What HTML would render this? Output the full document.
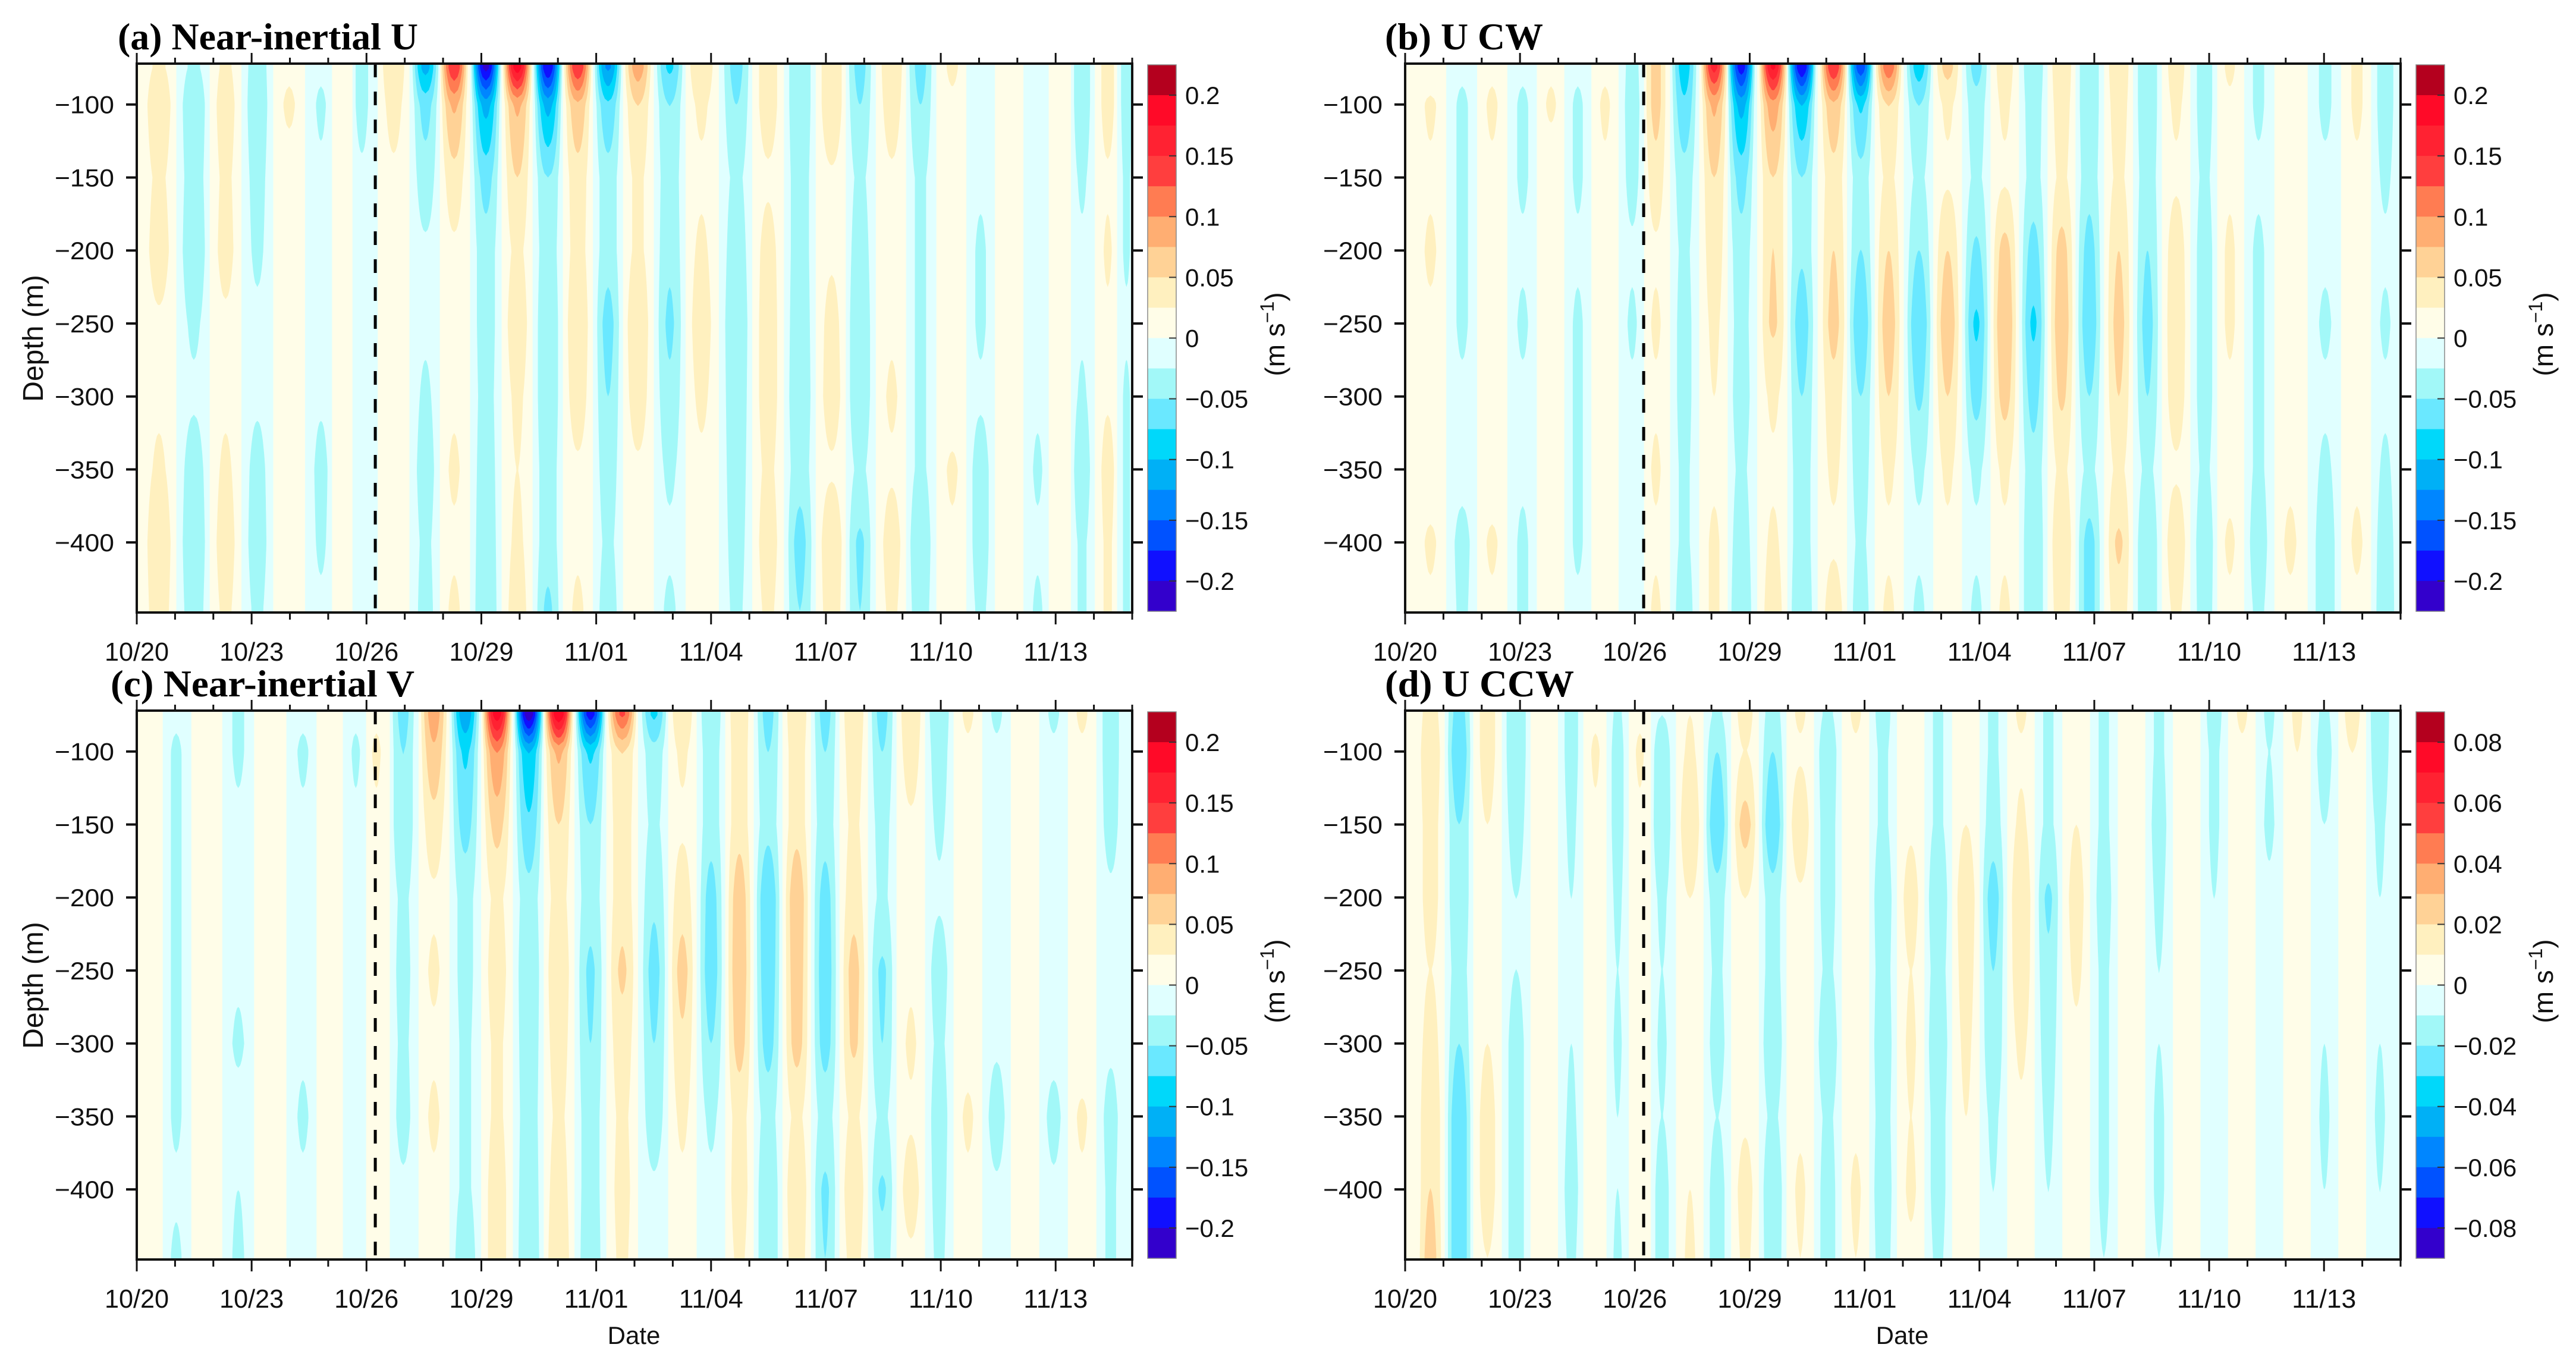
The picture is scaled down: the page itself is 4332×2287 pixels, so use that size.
<!DOCTYPE html>
<html><head><meta charset="utf-8">
<style>
html,body{margin:0;padding:0;background:#fff;}
svg{display:block;}
</style></head>
<body>
<svg id="fig" xmlns="http://www.w3.org/2000/svg" width="4332" height="2287" viewBox="0 0 4332 2287"></svg>
<script>
// ---------- data ----------
const depthNodes = [-75,-100,-150,-200,-250,-300,-350,-400,-445];
const dateLabels = ['10/20','10/23','10/26','10/29','11/01','11/04','11/07','11/10','11/13'];
const dateTickDays = [0,3,6,9,12,15,18,21,24];
const depthTicks = [-100,-150,-200,-250,-300,-350,-400];
const cbLabelsUV = [0.2,0.15,0.1,0.05,0,-0.05,-0.1,-0.15,-0.2];
const cbLabelsD = [0.08,0.06,0.04,0.02,0,-0.02,-0.04,-0.06,-0.08];
const eventDay = 6.23;

const timesA = [0.58,1.49,2.32,3.15,3.98,4.81,5.39,5.88,6.71,7.54,8.29,9.12,9.94,10.74,11.52,12.31,13.09,13.92,14.75,15.66,16.49,17.32,18.15,18.89,19.72,20.47,21.30,22.04,22.79,23.53,24.11,24.69,25.36,25.85];
const ampsA = [
[0.03,0.05,0.03,0.04,0.02,0.02,0.03,0.05,0.04],
[-0.03,-0.05,-0.04,-0.05,-0.03,-0.02,-0.04,-0.05,-0.04],
[0.03,0.04,0.03,0.035,0.02,0.02,0.03,0.04,0.03],
[-0.04,-0.045,-0.035,-0.03,-0.02,-0.02,-0.035,-0.04,-0.03],
[0.02,0.03,0.015,0.015,0.015,0.02,0.015,0.02,0.02],
[-0.02,-0.03,-0.02,-0.02,-0.02,-0.02,-0.035,-0.03,-0.02],
[0.01,0.015,0.02,0.01,0.015,0.02,0.01,0.015,0.01],
[-0.035,-0.035,-0.02,-0.01,-0.01,-0.02,-0.01,-0.01,-0.01],
[0.05,0.035,0.02,0.02,0.015,0.02,0.02,0.01,0.01],
[-0.11,-0.06,-0.04,-0.02,-0.02,-0.03,-0.04,-0.03,-0.035],
[0.15,0.08,0.04,0.02,0.02,0.02,0.03,0.02,0.03],
[-0.21,-0.11,-0.06,-0.04,-0.04,-0.035,-0.04,-0.045,-0.05],
[0.19,0.08,0.05,0.03,0.045,0.03,0.025,0.03,0.04],
[-0.2,-0.11,-0.05,-0.04,-0.05,-0.05,-0.04,-0.04,-0.055],
[0.15,0.07,0.04,0.035,0.05,0.04,0.02,0.02,0.03],
[-0.13,-0.07,-0.04,-0.04,-0.06,-0.05,-0.04,-0.03,-0.04],
[0.09,0.05,0.03,0.03,0.05,0.04,0.02,0.02,0.02],
[-0.08,-0.05,-0.04,-0.045,-0.055,-0.045,-0.03,-0.02,-0.03],
[0.05,0.03,0.02,0.03,0.04,0.03,0.02,0.01,0.01],
[-0.06,-0.05,-0.03,-0.04,-0.05,-0.045,-0.04,-0.035,-0.03],
[0.04,0.04,0.02,0.035,0.04,0.04,0.03,0.04,0.03],
[-0.05,-0.05,-0.04,-0.04,-0.045,-0.05,-0.04,-0.06,-0.05],
[0.05,0.05,0.02,0.02,0.035,0.04,0.02,0.05,0.04],
[-0.06,-0.05,-0.03,-0.04,-0.05,-0.05,-0.03,-0.055,-0.05],
[0.05,0.04,0.02,0.02,0.02,0.03,0.02,0.04,0.03],
[-0.06,-0.05,-0.03,-0.03,-0.03,-0.03,-0.03,-0.05,-0.04],
[0.03,0.02,0.01,0.01,0.01,0.01,0.03,0.02,0.02],
[-0.02,-0.02,-0.02,-0.03,-0.03,-0.02,-0.04,-0.04,-0.03],
[0.02,0.02,0.02,0.01,0.01,0.01,0.02,0.01,0.01],
[-0.02,-0.02,-0.02,-0.02,-0.02,-0.02,-0.03,-0.02,-0.03],
[0.02,0.02,0.02,0.01,0.01,0.02,0.02,0.02,0.01],
[-0.05,-0.05,-0.03,-0.02,-0.02,-0.03,-0.05,-0.03,-0.03],
[0.04,0.04,0.02,0.03,0.02,0.02,0.04,0.03,0.03],
[-0.04,-0.04,-0.03,-0.03,-0.02,-0.03,-0.03,-0.03,-0.03]];

const timesB = [0.66,1.49,2.27,3.07,3.81,4.51,5.22,5.93,6.55,7.29,8.07,8.78,9.61,10.36,11.19,11.90,12.63,13.42,14.17,14.92,15.66,16.41,17.15,17.87,18.64,19.39,20.14,20.88,21.54,22.29,23.12,24.03,24.86,25.60];
const ampsB = [
[0.01,0.03,0.02,0.03,0.02,0.01,0.01,0.03,0.02],
[-0.02,-0.03,-0.03,-0.03,-0.03,-0.02,-0.015,-0.035,-0.03],
[0.02,0.03,0.02,0.02,0.015,0.01,0.01,0.03,0.02],
[-0.02,-0.03,-0.03,-0.02,-0.03,-0.02,-0.02,-0.03,-0.03],
[0.02,0.03,0.01,0.015,0.01,0.01,0.02,0.015,0.01],
[-0.02,-0.03,-0.03,-0.02,-0.03,-0.03,-0.03,-0.03,-0.02],
[0.02,0.03,0.02,0.01,0.02,0.015,0.02,0.015,0.01],
[-0.035,-0.04,-0.035,-0.02,-0.03,-0.02,-0.015,-0.02,-0.015],
[0.06,0.06,0.04,0.02,0.03,0.02,0.03,0.02,0.03],
[-0.09,-0.07,-0.04,-0.03,-0.035,-0.035,-0.03,-0.03,-0.04],
[0.16,0.08,0.05,0.04,0.03,0.025,0.02,0.03,0.03],
[-0.19,-0.11,-0.06,-0.04,-0.035,-0.04,-0.03,-0.04,-0.05],
[0.18,0.09,0.05,0.05,0.055,0.03,0.02,0.03,0.04],
[-0.2,-0.1,-0.05,-0.045,-0.065,-0.05,-0.04,-0.04,-0.05],
[0.15,0.07,0.04,0.05,0.06,0.04,0.03,0.02,0.04],
[-0.17,-0.08,-0.04,-0.05,-0.075,-0.05,-0.04,-0.03,-0.04],
[0.12,0.05,0.03,0.05,0.065,0.05,0.03,0.02,0.03],
[-0.09,-0.05,-0.03,-0.05,-0.075,-0.055,-0.03,-0.02,-0.03],
[0.06,0.03,0.02,0.05,0.07,0.05,0.03,0.02,0.02],
[-0.06,-0.04,-0.03,-0.055,-0.08,-0.06,-0.03,-0.02,-0.03],
[0.04,0.03,0.02,0.06,0.075,0.06,0.03,0.02,0.03],
[-0.05,-0.04,-0.035,-0.06,-0.08,-0.06,-0.04,-0.05,-0.05],
[0.05,0.04,0.03,0.06,0.07,0.055,0.03,0.05,0.04],
[-0.05,-0.05,-0.04,-0.06,-0.07,-0.05,-0.03,-0.06,-0.06],
[0.05,0.04,0.03,0.05,0.06,0.05,0.03,0.055,0.04],
[-0.05,-0.05,-0.04,-0.05,-0.06,-0.05,-0.03,-0.05,-0.05],
[0.04,0.03,0.02,0.04,0.045,0.04,0.02,0.045,0.03],
[-0.04,-0.04,-0.03,-0.04,-0.04,-0.04,-0.03,-0.045,-0.04],
[0.03,0.02,0.02,0.03,0.03,0.02,0.015,0.03,0.02],
[-0.03,-0.03,-0.02,-0.03,-0.03,-0.03,-0.03,-0.04,-0.03],
[0.02,0.02,0.015,0.015,0.015,0.015,0.02,0.03,0.02],
[-0.03,-0.03,-0.02,-0.02,-0.03,-0.02,-0.03,-0.04,-0.04],
[0.03,0.03,0.02,0.02,0.01,0.015,0.02,0.03,0.02],
[-0.04,-0.04,-0.03,-0.02,-0.03,-0.02,-0.03,-0.04,-0.045]];

const timesC = [0.33,1.03,1.82,2.65,3.48,4.34,5.05,5.72,6.26,6.96,7.76,8.58,9.41,10.24,11.02,11.85,12.68,13.51,14.25,15.00,15.74,16.49,17.24,17.98,18.73,19.47,20.22,20.96,21.71,22.46,23.20,23.95,24.69,25.44];
const ampsC = [
[0.02,0.01,0.02,0.02,0.01,0.02,0.01,0.02,0.01],
[-0.02,-0.03,-0.03,-0.03,-0.03,-0.03,-0.03,-0.02,-0.03],
[0.02,0.02,0.02,0.015,0.015,0.02,0.02,0.02,0.02],
[-0.03,-0.03,-0.02,-0.02,-0.02,-0.03,-0.015,-0.025,-0.03],
[0.015,0.02,0.02,0.02,0.02,0.02,0.02,0.02,0.02],
[-0.02,-0.03,-0.02,-0.02,-0.015,-0.02,-0.03,-0.02,-0.015],
[0.02,0.02,0.02,0.02,0.02,0.015,0.02,0.02,0.01],
[-0.02,-0.03,-0.02,-0.015,-0.01,-0.015,-0.01,-0.01,-0.01],
[0.02,0.03,0.02,0.015,0.015,0.01,0.02,0.01,0.01],
[-0.06,-0.05,-0.05,-0.03,-0.035,-0.03,-0.035,-0.02,-0.01],
[0.09,0.07,0.04,0.02,0.03,0.02,0.03,0.02,0.02],
[-0.12,-0.08,-0.06,-0.035,-0.035,-0.03,-0.03,-0.03,-0.045],
[0.19,0.1,0.06,0.03,0.04,0.03,0.03,0.04,0.04],
[-0.22,-0.1,-0.07,-0.04,-0.05,-0.045,-0.04,-0.045,-0.05],
[0.2,0.08,0.05,0.035,0.05,0.04,0.03,0.04,0.05],
[-0.19,-0.08,-0.05,-0.04,-0.055,-0.05,-0.04,-0.04,-0.045],
[0.13,0.05,0.04,0.04,0.055,0.04,0.03,0.035,0.03],
[-0.08,-0.04,-0.03,-0.045,-0.06,-0.05,-0.04,-0.02,-0.02],
[0.05,0.03,0.02,0.04,0.06,0.045,0.03,0.02,0.015],
[-0.05,-0.04,-0.04,-0.06,-0.065,-0.05,-0.03,-0.02,-0.02],
[0.045,0.04,0.04,0.065,0.07,0.06,0.035,0.04,0.03],
[-0.06,-0.05,-0.04,-0.075,-0.07,-0.06,-0.035,-0.05,-0.05],
[0.05,0.04,0.04,0.07,0.065,0.06,0.03,0.05,0.04],
[-0.06,-0.05,-0.04,-0.06,-0.065,-0.06,-0.035,-0.055,-0.05],
[0.05,0.04,0.03,0.04,0.06,0.055,0.03,0.05,0.035],
[-0.06,-0.05,-0.035,-0.03,-0.055,-0.05,-0.03,-0.055,-0.04],
[0.05,0.04,0.02,0.02,0.02,0.03,0.02,0.04,0.02],
[-0.05,-0.04,-0.03,-0.02,-0.04,-0.03,-0.04,-0.035,-0.03],
[0.03,0.02,0.02,0.02,0.015,0.015,0.03,0.02,0.015],
[-0.03,-0.02,-0.015,-0.02,-0.01,-0.02,-0.04,-0.02,-0.015],
[0.02,0.01,0.02,0.02,0.01,0.01,0.025,0.01,0.02],
[-0.03,-0.02,-0.02,-0.02,-0.02,-0.015,-0.035,-0.02,-0.02],
[0.03,0.02,0.02,0.02,0.02,0.01,0.03,0.02,0.02],
[-0.04,-0.04,-0.035,-0.02,-0.02,-0.02,-0.035,-0.03,-0.03]];

const timesD = [0.66,1.41,2.15,2.90,3.65,4.34,4.97,5.55,6.13,6.71,7.44,8.15,8.88,9.60,10.32,11.04,11.77,12.48,13.21,13.92,14.65,15.36,16.09,16.80,17.53,18.25,18.98,19.69,20.42,21.13,21.86,22.57,23.30,24.01,24.74,25.46];
const ampsD = [
[0.015,0.02,0.015,0.015,0.01,0.015,0.02,0.02,0.025],
[-0.025,-0.03,-0.02,-0.02,-0.015,-0.02,-0.03,-0.03,-0.03],
[0.015,0.015,0.01,0.01,0.008,0.01,0.015,0.015,0.01],
[-0.02,-0.02,-0.015,-0.01,-0.01,-0.015,-0.015,-0.015,-0.015],
[0.01,0.008,0.01,0.008,0.008,0.008,0.01,0.008,0.01],
[-0.015,-0.015,-0.012,-0.01,-0.01,-0.01,-0.012,-0.015,-0.012],
[0.008,0.012,0.008,0.008,0.008,0.008,0.008,0.008,0.008],
[-0.012,-0.015,-0.015,-0.012,-0.01,-0.012,-0.01,-0.01,-0.012],
[0.008,0.012,0.008,0.006,0.006,0.006,0.006,0.008,0.01],
[-0.01,-0.018,-0.02,-0.012,-0.01,-0.012,-0.01,-0.015,-0.015],
[0.01,0.012,0.02,0.01,0.008,0.008,0.008,0.01,0.012],
[-0.012,-0.02,-0.03,-0.015,-0.012,-0.015,-0.01,-0.015,-0.015],
[0.015,0.01,0.025,0.01,0.008,0.01,0.008,0.015,0.012],
[-0.015,-0.02,-0.03,-0.015,-0.015,-0.02,-0.012,-0.02,-0.018],
[0.012,0.008,0.018,0.008,0.008,0.01,0.008,0.012,0.01],
[-0.012,-0.018,-0.015,-0.015,-0.012,-0.02,-0.012,-0.015,-0.015],
[0.012,0.008,0.008,0.008,0.008,0.01,0.008,0.012,0.01],
[-0.015,-0.012,-0.012,-0.018,-0.015,-0.018,-0.015,-0.018,-0.015],
[0.01,0.008,0.008,0.015,0.01,0.012,0.01,0.012,0.008],
[-0.012,-0.012,-0.012,-0.02,-0.015,-0.02,-0.015,-0.015,-0.012],
[0.01,0.008,0.01,0.018,0.015,0.012,0.01,0.008,0.008],
[-0.012,-0.012,-0.015,-0.025,-0.02,-0.018,-0.012,-0.01,-0.01],
[0.012,0.008,0.012,0.02,0.018,0.012,0.008,0.008,0.008],
[-0.012,-0.012,-0.012,-0.022,-0.018,-0.015,-0.012,-0.01,-0.01],
[0.01,0.008,0.01,0.015,0.012,0.008,0.006,0.006,0.006],
[-0.012,-0.012,-0.012,-0.015,-0.012,-0.012,-0.012,-0.012,-0.01],
[0.008,0.008,0.008,0.008,0.008,0.008,0.008,0.006,0.006],
[-0.012,-0.012,-0.015,-0.012,-0.01,-0.01,-0.012,-0.012,-0.01],
[0.01,0.008,0.008,0.008,0.006,0.008,0.006,0.006,0.006],
[-0.015,-0.012,-0.012,-0.01,-0.01,-0.008,-0.008,-0.01,-0.008],
[0.012,0.008,0.008,0.008,0.006,0.008,0.008,0.006,0.006],
[-0.012,-0.01,-0.012,-0.008,-0.008,-0.008,-0.008,-0.008,-0.008],
[0.012,0.01,0.008,0.008,0.006,0.008,0.006,0.008,0.008],
[-0.012,-0.015,-0.01,-0.008,-0.008,-0.01,-0.012,-0.01,-0.008],
[0.015,0.01,0.008,0.008,0.006,0.008,0.008,0.006,0.006],
[-0.02,-0.018,-0.012,-0.01,-0.008,-0.01,-0.012,-0.01,-0.01]];

// ---------- styling ----------
const posColors = ['#fffde8','#fff0bf','#ffd296','#ffae72','#ff7c52','#ff3e3e','#ff2232','#ff0a28','#b4001e'];
const negColors = ['#e0ffff','#a2f8f8','#6ae8ff','#00d8fa','#00b0f6','#0086ff','#0052ff','#1010ff','#3300cc'];
const NS = 'http://www.w3.org/2000/svg';
const svg = document.getElementById('fig');
const PW = 1674, PH = 923, DAYS = 26, DTOP = -72, DBOT = -448;
function mk(tag, attrs, parent){ const e=document.createElementNS(NS,tag); for(const k in attrs) e.setAttribute(k,attrs[k]); (parent||svg).appendChild(e); return e; }
function fmt(v){ return v===0 ? '0' : (v<0 ? '\u2212'+String(-v) : String(v)); }

const panels = [
 {id:'a', x0:230, y0:107, times:timesA, amps:ampsA, step:0.025, cb:cbLabelsUV, title:'(a) Near-inertial U', tx:198, tw:505, ytitle:true, xtitle:false},
 {id:'b', x0:2363, y0:107, times:timesB, amps:ampsB, step:0.025, cb:cbLabelsUV, title:'(b) U CW', tx:2329, tw:266, ytitle:false, xtitle:false},
 {id:'c', x0:230, y0:1195, times:timesC, amps:ampsC, step:0.025, cb:cbLabelsUV, title:'(c) Near-inertial V', tx:186, tw:511, ytitle:true, xtitle:true},
 {id:'d', x0:2363, y0:1195, times:timesD, amps:ampsD, step:0.01, cb:cbLabelsD, title:'(d) U CCW', tx:2329, tw:318, ytitle:false, xtitle:true}
];

function ampAt(row, d){
  if(d >= depthNodes[0]) return row[0];
  for(let i=0;i<depthNodes.length-1;i++){
    const a=depthNodes[i], b=depthNodes[i+1];
    if(d<=a && d>=b){ const f=(a-d)/(a-b); return row[i]+(row[i+1]-row[i])*f; }
  }
  return row[row.length-1];
}

panels.forEach(p=>{
  const g = mk('g',{});
  
  
  const xs = day => p.x0 + day/DAYS*PW;
  const ys = dep => p.y0 + (DTOP-dep)/(DTOP-DBOT)*PH;
  const clipId='clip-'+p.id;
  const cp = mk('clipPath',{id:clipId},g);
  mk('rect',{x:p.x0,y:p.y0,width:PW,height:PH},cp);
  const field = mk('g',{'clip-path':'url(#'+clipId+')'},g);
  
  
  const bg = mk('rect',{x:p.x0,y:p.y0,width:PW,height:PH,fill:negColors[0]},field);
  
  
  const T=p.times, n=T.length;
  const samples=[]; for(let d=DTOP; d>=DBOT; d-=3) samples.push(d); samples.push(DBOT);
  for(let i=0;i<n;i++){
    const gl = i>0 ? (T[i]-T[i-1]) : (T[1]-T[0]);
    const gr = i<n-1 ? (T[i+1]-T[i]) : (T[n-1]-T[n-2]);
    const left = i===0 ? -1 : T[i]-gl/2, right = i===n-1 ? DAYS+1 : T[i]+gr/2;
    const w = (gl+gr)/2;
    const row = p.amps[i];
    const sgn = row.reduce((s,v)=>s+v,0) >= 0 ? 1 : -1;
    const cols = sgn>0 ? posColors : negColors;
    const base = mk('rect',{x:xs(left),y:p.y0,width:xs(right)-xs(left),height:PH,fill:cols[0]},field);
    
    
    const av = samples.map(d=>Math.abs(ampAt(row,d)));
    for(let k=1;k<cols.length;k++){
      const L=k*p.step;
      let run=null; const runs=[];
      for(let s=0;s<samples.length;s++){
        if(av[s]>L){ if(!run){ run=[]; if(s>0){ const f=(L-av[s-1])/(av[s]-av[s-1]); run.push([samples[s-1]+(samples[s]-samples[s-1])*f,0]); } } run.push([samples[s], (w/Math.PI)*Math.acos(L/av[s])]); }
        else if(run){ const f=(av[s-1]-L)/(av[s-1]-av[s]); run.push([samples[s-1]+(samples[s]-samples[s-1])*f,0]); runs.push(run); run=null; }
      }
      if(run) runs.push(run);
      runs.forEach(r=>{
        let pts=r.map(q=>xs(T[i]-q[1]).toFixed(1)+','+ys(q[0]).toFixed(1));
        pts=pts.concat(r.slice().reverse().map(q=>xs(T[i]+q[1]).toFixed(1)+','+ys(q[0]).toFixed(1)));
        const poly = mk('polygon',{points:pts.join(' '),fill:cols[k]},field);
        
        
      });
    }
  }
  // event dashed line
  const ev = mk('line',{x1:xs(eventDay),x2:xs(eventDay),y1:p.y0,y2:p.y0+PH,stroke:'#000','stroke-width':5,'stroke-dasharray':'23 24'},g);
  
  
  // axes frame
  const fr = mk('rect',{x:p.x0,y:p.y0,width:PW,height:PH,fill:'none',stroke:'#111','stroke-width':4},g);
  
  
  // x ticks
  for(let d=0; d<=DAYS; d++){
    const major = dateTickDays.indexOf(d)>=0;
    const len = major?20:12;
    mk('line',{x1:xs(d),x2:xs(d),y1:p.y0+PH,y2:p.y0+PH+len,stroke:'#111','stroke-width':3},g);
    mk('line',{x1:xs(d),x2:xs(d),y1:p.y0,y2:p.y0-(major?18:10),stroke:'#111','stroke-width':3},g);
  }
  dateLabels.forEach((lab,j)=>{
    const t = mk('text',{x:xs(dateTickDays[j]),y:p.y0+PH+81,'text-anchor':'middle','font-family':'Liberation Sans, sans-serif','font-size':44,textLength:108,lengthAdjust:'spacingAndGlyphs',fill:'#111'},g);
    t.textContent=lab;
    
    
  });
  // y ticks
  depthTicks.forEach(dv=>{
    mk('line',{x1:p.x0-18,x2:p.x0,y1:ys(dv),y2:ys(dv),stroke:'#111','stroke-width':4},g);
    mk('line',{x1:p.x0+PW,x2:p.x0+PW+18,y1:ys(dv),y2:ys(dv),stroke:'#111','stroke-width':4},g);
    const t = mk('text',{x:p.x0-38,y:ys(dv)+15,'text-anchor':'end','font-family':'Liberation Sans, sans-serif','font-size':42,textLength:100,lengthAdjust:'spacingAndGlyphs',fill:'#111'},g);
    t.textContent=fmt(dv);
    
    
  });
  // title
  const tt = mk('text',{x:p.tx,y:p.y0-24,'font-family':'Liberation Serif, serif','font-weight':'bold','font-size':64,textLength:p.tw,lengthAdjust:'spacingAndGlyphs',fill:'#000'},g);
  tt.textContent=p.title;
  
  
  if(p.ytitle){
    const yt = mk('text',{x:0,y:0,transform:'translate(72,'+(p.y0+462)+') rotate(-90)','text-anchor':'middle','font-family':'Liberation Sans, sans-serif','font-size':48,fill:'#111'},g);
    yt.textContent='Depth (m)';
    
    
  }
  if(p.xtitle){
    const xt = mk('text',{x:p.x0+836,y:p.y0+PH+142,'text-anchor':'middle','font-family':'Liberation Sans, sans-serif','font-size':42,fill:'#111'},g);
    xt.textContent='Date';
    
    
  }
  // colorbar
  const cbx = p.x0+PW+26, cbw=48, cby=p.y0+2, cbh=PH-4;
  const cbg = mk('g',{},g);
  
  
  const nb = 18, bh = cbh/nb;
  for(let b=0;b<nb;b++){
    const col = b<9 ? posColors[8-b] : negColors[b-9];
    const r = mk('rect',{x:cbx,y:cby+b*bh,width:cbw,height:bh+0.6,fill:col},cbg);
    
    
  }
  mk('rect',{x:cbx,y:cby,width:cbw,height:cbh,fill:'none',stroke:'#888','stroke-width':1.5},cbg);
  const vmax = p.step*9;
  p.cb.forEach(v=>{
    const yy = cby + (vmax - v)/(2*vmax)*cbh;
    mk('line',{x1:cbx+cbw-12,x2:cbx+cbw,y1:yy,y2:yy,stroke:'#333','stroke-width':2},cbg);
    const t = mk('text',{x:cbx+63,y:yy+15,'font-family':'Liberation Sans, sans-serif','font-size':42,fill:'#111'},cbg);
    t.textContent=fmt(v);
    
    
  });
  const ut = mk('text',{x:0,y:0,transform:'translate('+(cbx+230)+','+(p.y0+455)+') rotate(-90)','text-anchor':'middle','font-family':'Liberation Sans, sans-serif','font-size':46,fill:'#111'},cbg);
  ut.innerHTML='(m s<tspan baseline-shift="super" font-size="32">\u22121</tspan>)';
  
  
});
</script>
</body></html>
